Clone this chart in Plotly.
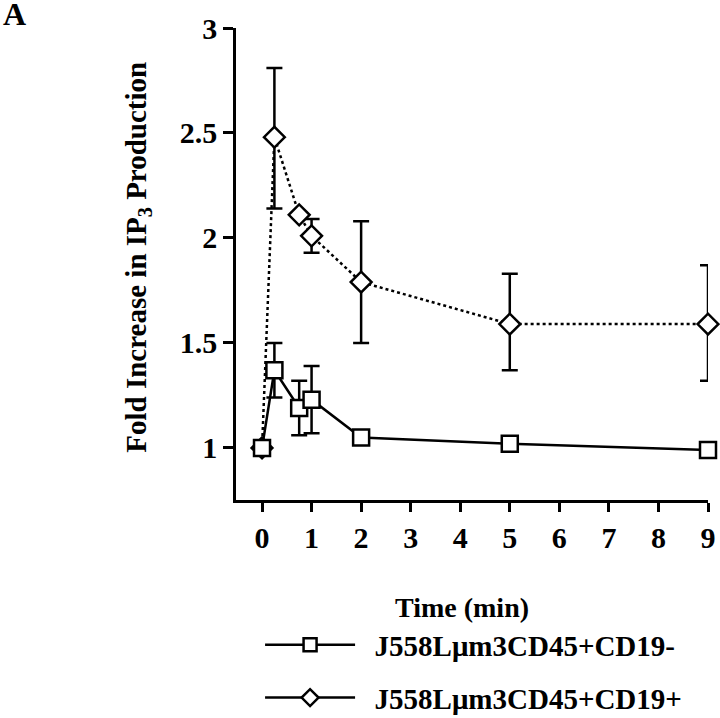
import plotly.graph_objects as go

time_min = [0, 0.25, 0.75, 1, 2, 5, 9]

neg_name = "J558Lμm3CD45+CD19-"
neg_y = [1.0, 1.37, 1.19, 1.23, 1.05, 1.02, 0.99]
neg_err_up = [0, 0.13, 0.13, 0.16, 0, 0, 0]
neg_err_dn = [0, 0.13, 0.13, 0.16, 0, 0, 0]

pos_name = "J558Lμm3CD45+CD19+"
pos_y = [1.0, 2.48, 2.11, 2.01, 1.79, 1.59, 1.59]
pos_err_up = [0, 0.33, 0, 0.08, 0.29, 0.24, 0.28]
pos_err_dn = [0, 0.34, 0, 0.08, 0.29, 0.22, 0.27]

x_ticks = [0, 1, 2, 3, 4, 5, 6, 7, 8, 9]
y_ticks = [1, 1.5, 2, 2.5, 3]
y_tick_text = ["1", "1.5", "2", "2.5", "3"]

x_title = "Time (min)"
y_title = "Fold Increase in IP<sub>3</sub> Production"
panel_label = "A"

FONT = "Liberation Serif"
NB = "\u00a0"

fig = go.Figure()

fig.add_trace(go.Scatter(
    x=time_min, y=pos_y, mode="lines+markers", name=pos_name,
    line=dict(color="black", width=2.5, dash="dot"),
    marker=dict(symbol="diamond", size=16, color="white", line=dict(width=2.5, color="black")),
    error_y=dict(type="data", symmetric=False, array=pos_err_up, arrayminus=pos_err_dn,
                 color="black", thickness=2.5, width=8),
    showlegend=False, cliponaxis=False,
))
fig.add_trace(go.Scatter(
    x=time_min, y=neg_y, mode="lines+markers", name=neg_name,
    line=dict(color="black", width=2.5),
    marker=dict(symbol="square", size=16, color="white", line=dict(width=2.5, color="black")),
    error_y=dict(type="data", symmetric=False, array=neg_err_up, arrayminus=neg_err_dn,
                 color="black", thickness=2.5, width=8),
    showlegend=False, cliponaxis=False,
))

# legend entries (solid sample lines as in the reference)
fig.add_trace(go.Scatter(
    x=[None], y=[None], mode="lines+markers", name=NB * 2 + neg_name,
    legend="legend",
    line=dict(color="black", width=2.5),
    marker=dict(symbol="square", size=13, color="white", line=dict(width=2.5, color="black")),
))
fig.add_trace(go.Scatter(
    x=[None], y=[None], mode="lines+markers", name=NB * 2 + pos_name,
    legend="legend2",
    line=dict(color="black", width=2.5),
    marker=dict(symbol="diamond", size=13, color="white", line=dict(width=2.5, color="black")),
))

legend_common = dict(
    x=0.051, xanchor="left", yanchor="middle",
    font=dict(family=FONT, size=29, weight="bold"),
    itemwidth=90, bgcolor="rgba(0,0,0,0)", borderwidth=0,
)

fig.update_layout(
    width=720, height=718,
    margin=dict(l=236, r=12, t=28, b=218, autoexpand=False),
    paper_bgcolor="white", plot_bgcolor="white",
    font=dict(family=FONT, color="black", size=28),
    xaxis=dict(
        range=[-0.525, 9.0], tickmode="array", tickvals=x_ticks, automargin=False,
        showgrid=False, zeroline=False, showline=True, linecolor="black", linewidth=2.5,
        ticks="outside", ticklen=9, tickwidth=2.5, tickcolor="black",
        tickfont=dict(family=FONT, size=30, weight="bold"),
    ),
    yaxis=dict(
        range=[0.752, 3.0], tickmode="array", tickvals=y_ticks, ticktext=y_tick_text,
        automargin=False,
        showgrid=False, zeroline=False, showline=True, linecolor="black", linewidth=2.5,
        ticks="outside", ticklen=10, tickwidth=2.5, tickcolor="black",
        tickfont=dict(family=FONT, size=30, weight="bold"),
    ),
    legend=dict(y=-0.307, **legend_common),
    legend2=dict(y=-0.419, **legend_common),
    annotations=[
        dict(text="<b>" + panel_label + "</b>", xref="paper", yref="paper",
             x=-0.470, y=1.0297, xanchor="center", yanchor="middle", showarrow=False,
             font=dict(family=FONT, size=32)),
        dict(text="<b>" + y_title + "</b>", xref="paper", yref="paper",
             x=-0.208, y=0.515, xanchor="center", yanchor="middle", showarrow=False,
             textangle=-90, font=dict(family=FONT, size=29)),
        dict(text="<b>" + x_title + "</b>", xref="paper", yref="paper",
             x=0.479, y=-0.227, xanchor="center", yanchor="middle", showarrow=False,
             font=dict(family=FONT, size=28)),
    ],
)

fig.write_html("out.html", config={"displayModeBar": False},
               post_script="document.body.style.margin='0';")
